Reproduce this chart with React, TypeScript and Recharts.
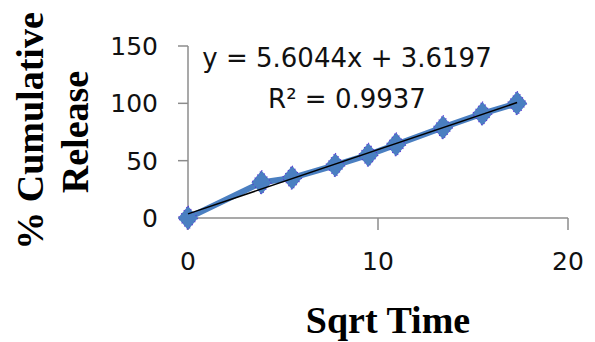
import { ScatterChart, Scatter, XAxis, YAxis, Label } from "recharts";

// sqrt(time in minutes) and % cumulative release
const sqrtTime = [0, 3.87, 5.48, 7.75, 9.49, 10.95, 13.42, 15.49, 17.32];
const release = [0, 31, 35, 46, 55, 64, 79, 91, 100];

const xTicks = [0, 10, 20];
const yTicks = [0, 50, 100, 150];

// linear trendline reported on the chart
const slope = 5.6044;
const intercept = 3.6197;
const rSquared = "0.9937";

const data = sqrtTime.map((x, i) => ({ x, y: release[i] }));
const trend = [sqrtTime[0], sqrtTime[sqrtTime.length - 1]].map((x) => ({ x, y: slope * x + intercept }));

const tickFont = { fontFamily: "DejaVu Sans", fontSize: 25, fill: "#111" };
const titleFont = { fontFamily: "Liberation Serif", fontSize: 38, fontWeight: 700, fill: "#000" };

const Diamond = (props: any) => {
  const { cx, cy } = props;
  if (cx == null || cy == null) return null;
  const w = 10;
  const h = 12;
  return (
    <polygon
      points={`${cx},${cy - h} ${cx + w},${cy} ${cx},${cy + h} ${cx - w},${cy}`}
      fill="#4a7fc1"
      stroke="#5a2bd6"
      strokeWidth={1.2}
      strokeDasharray="1 3"
    />
  );
};

const NoDot = () => <g />;

const Titles = () => (
  <g>
    <text {...titleFont} textAnchor="middle" transform="translate(43,131) rotate(-90)">
      % Cumulative
    </text>
    <text {...titleFont} textAnchor="middle" transform="translate(88,132) rotate(-90)">
      Release
    </text>
    <text {...titleFont} textAnchor="middle" x={388} y={333}>
      Sqrt Time
    </text>
    <text {...tickFont} fontSize={26} textAnchor="middle" x={347} y={67}>
      y = {slope}x + {intercept}
    </text>
    <text {...tickFont} fontSize={26} textAnchor="middle" x={347} y={108}>
      R² = {rSquared}
    </text>
  </g>
);

export default function App() {
  return (
    <div style={{ position: "absolute", left: 0, top: 0, width: 595, height: 342, background: "#fff" }}>
      <ScatterChart width={595} height={342} margin={{ top: 46, right: 27, left: 0, bottom: 0 }}>
        <XAxis
          type="number"
          dataKey="x"
          domain={[0, 20]}
          ticks={xTicks}
          height={124}
          tickSize={12}
          tickMargin={22}
          tick={tickFont}
          stroke="#8c8c8c"
          strokeWidth={1.5}
        >
          <Label content={() => <Titles />} />
        </XAxis>
        <YAxis
          type="number"
          dataKey="y"
          domain={[0, 150]}
          ticks={yTicks}
          width={188}
          tickSize={10}
          tickMargin={20}
          tick={tickFont}
          stroke="#8c8c8c"
          strokeWidth={1.5}
        />
        <Scatter
          data={data}
          line={{ stroke: "#4a7fc1", strokeWidth: 6 }}
          shape={<Diamond />}
          isAnimationActive={false}
        />
        <Scatter
          data={trend}
          line={{ stroke: "#000", strokeWidth: 1.5 }}
          shape={<NoDot />}
          isAnimationActive={false}
        />
      </ScatterChart>
    </div>
  );
}
